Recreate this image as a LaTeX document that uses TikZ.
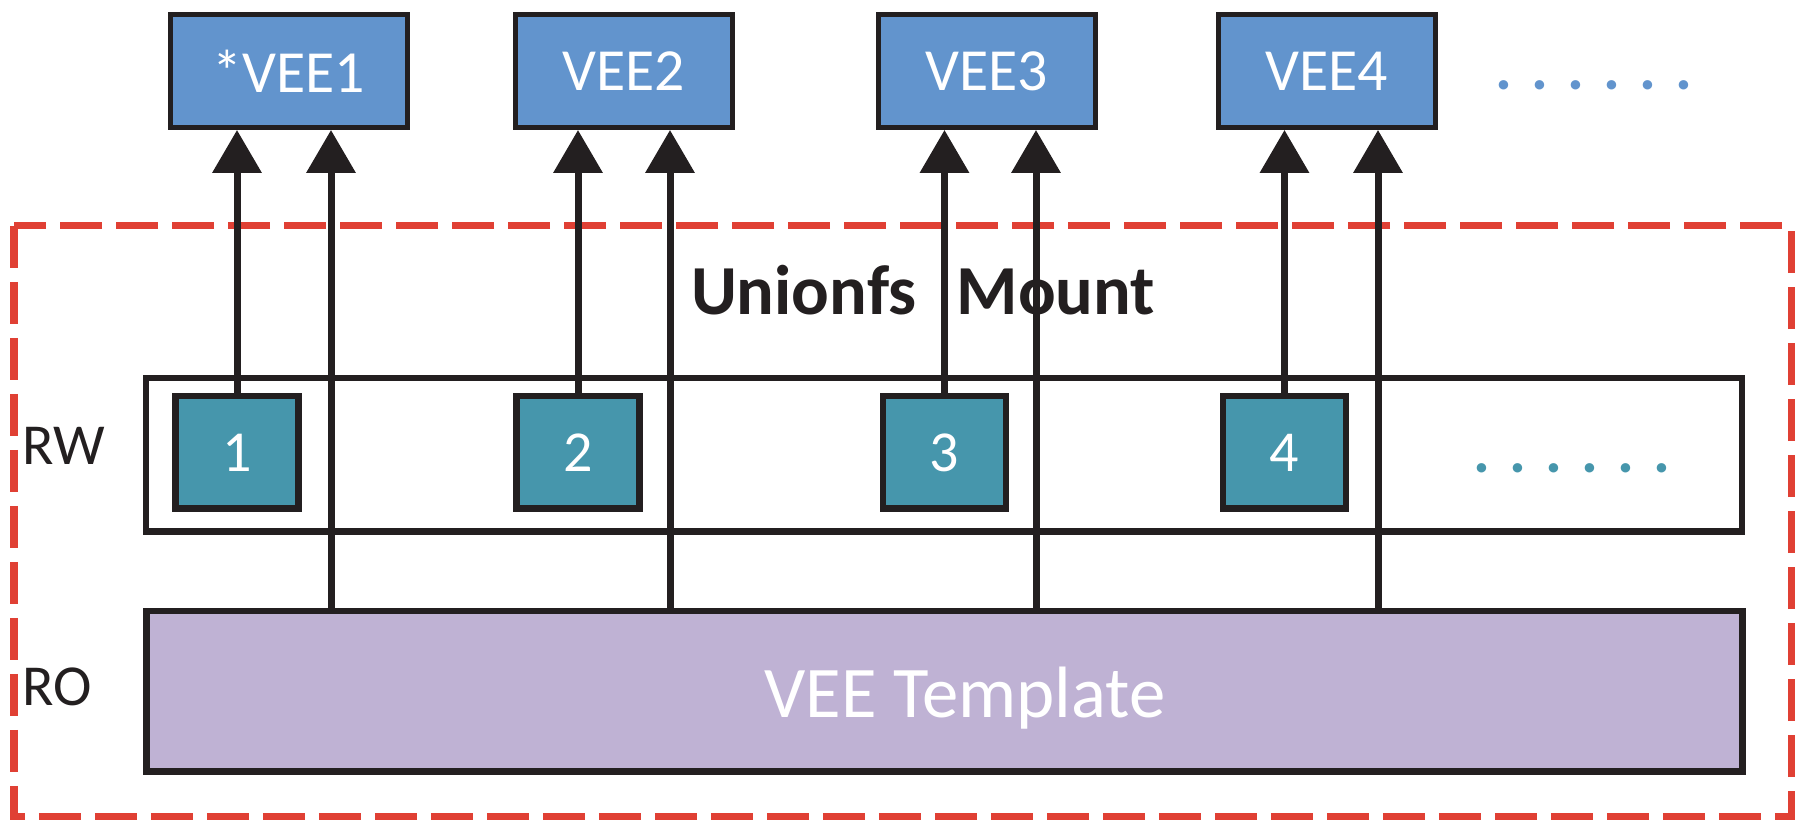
\documentclass[tikz,border=0pt]{standalone}
\usepackage{fontspec}
\setmainfont{Carlito}
\usetikzlibrary{arrows.meta}
\definecolor{veeblue}{RGB}{98,148,205}
\definecolor{layerteal}{RGB}{70,150,172}
\definecolor{templatepurple}{RGB}{191,178,212}
\definecolor{mountred}{RGB}{224,64,52}
\definecolor{linegray}{RGB}{35,31,32}

\begin{document}
\begin{tikzpicture}[
    vee/.style={rectangle, draw=linegray, line width=0.05cm, fill=veeblue, minimum width=2.17cm, minimum height=1.13cm, inner sep=0pt, text=white, font=\fontsize{17}{19}\selectfont},
    layer/.style={rectangle, draw=linegray, line width=0.065cm, fill=layerteal, minimum width=1.23cm, minimum height=1.125cm, inner sep=0pt, text=white, font=\fontsize{16.5}{18}\selectfont},
    lane/.style={rectangle, draw=linegray, line width=0.065cm, minimum width=15.96cm, inner sep=0pt},
    mount/.style={-{Triangle[width=0.48cm, length=0.43cm]}, line width=0.07cm, linegray},
    label/.style={anchor=base west, inner sep=0pt, text=linegray, font=\fontsize{16.5}{18}\selectfont},
    more/.style={anchor=base, inner sep=0pt, font=\fontsize{18}{20}\selectfont\bfseries}
]
\useasboundingbox (0,0) rectangle (17.97,8.20);

% Unionfs mount area
\draw[mountred, line width=0.07cm, dash pattern=on 0.42cm off 0.14cm] (0.14,5.94) rectangle (17.91,0.03);
\node[anchor=base, inner sep=0pt, text=linegray, font=\fontsize{20}{22}\selectfont\bfseries] (title) at (9.23,5.05) {Unionfs\hspace{0.4cm}Mount};

% Layers
\node[lane, minimum height=1.535cm] (rw) at (9.44,3.65) {};
\node[lane, minimum height=1.605cm, fill=templatepurple] (tmpl) at (9.445,1.285) {};
\node[anchor=base, inner sep=0pt, text=white, font=\fontsize{20.7}{22}\selectfont] (tmpltext) at (9.65,1.02) {VEE Template};

\node[label] (rwlabel) at (0.22,3.55) {RW};
\node[label] (rolabel) at (0.22,1.14) {RO};

% Writable branches
\node[layer] (b1) at (2.37,3.675) {1};
\node[layer] (b2) at (5.78,3.675) {2};
\node[layer] (b3) at (9.445,3.675) {3};
\node[layer] (b4) at (12.845,3.675) {4};
\node[more, layerteal] (rwdots) at (15.72,3.47) {. . . . . .};

% Environments
\node[vee, minimum width=2.37cm] (vee1) at (2.89,7.49) {*VEE1};
\node[vee] (vee2) at (6.24,7.49) {VEE2};
\node[vee] (vee3) at (9.865,7.49) {VEE3};
\node[vee] (vee4) at (13.27,7.49) {VEE4};
\node[more, veeblue] (veedots) at (15.94,7.30) {. . . . . .};

% Template feet
\coordinate (t1) at (3.31,2.09);
\coordinate (t2) at (6.70,2.09);
\coordinate (t3) at (10.36,2.09);
\coordinate (t4) at (13.78,2.09);

% Branch to VEE
\draw[mount] (b1.north) -- (b1.north |- vee1.south);
\draw[mount] (b2.north) -- (b2.north |- vee2.south);
\draw[mount] (b3.north) -- (b3.north |- vee3.south);
\draw[mount] (b4.north) -- (b4.north |- vee4.south);

% Template to VEE
\draw[mount] (t1) -- (t1 |- vee1.south);
\draw[mount] (t2) -- (t2 |- vee2.south);
\draw[mount] (t3) -- (t3 |- vee3.south);
\draw[mount] (t4) -- (t4 |- vee4.south);

\end{tikzpicture}
\end{document}
